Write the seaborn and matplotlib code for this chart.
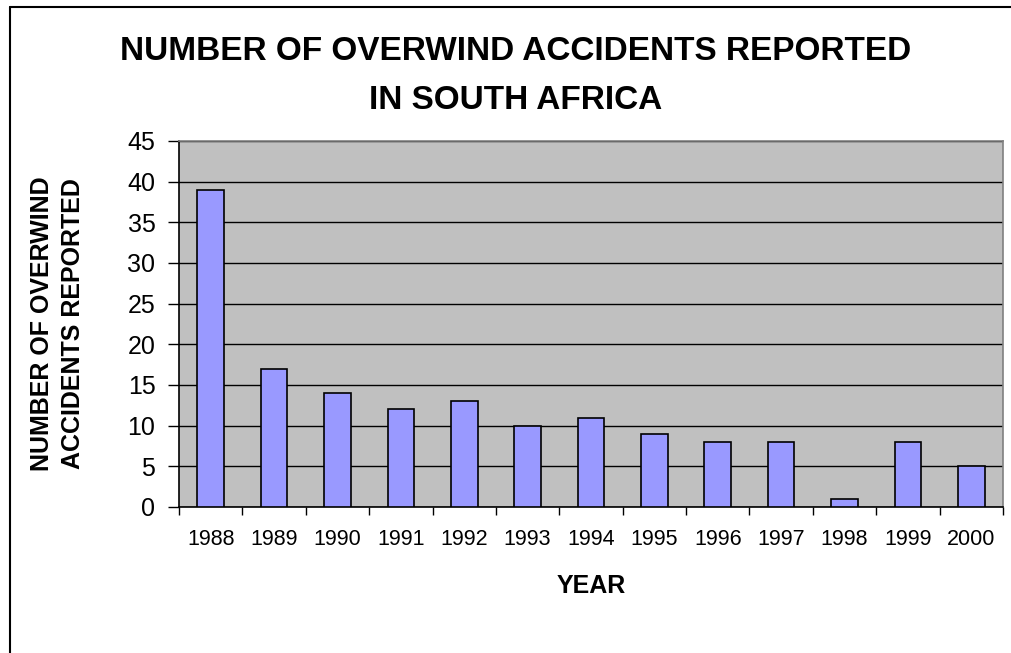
import matplotlib
matplotlib.use('Agg')
import matplotlib.pyplot as plt
from matplotlib.lines import Line2D
import numpy as np
import seaborn as sns

years = ['1988', '1989', '1990', '1991', '1992', '1993', '1994',
         '1995', '1996', '1997', '1998', '1999', '2000']
accidents = [39, 17, 14, 12, 13, 10, 11, 9, 8, 8, 1, 8, 5]
y_ticks = [0, 5, 10, 15, 20, 25, 30, 35, 40, 45]

title = 'NUMBER OF OVERWIND ACCIDENTS REPORTED\nIN SOUTH AFRICA'
y_label = 'NUMBER OF OVERWIND\nACCIDENTS REPORTED'
x_label = 'YEAR'

sns.set_style('white')
plt.rcParams['font.family'] = ['Liberation Sans', 'DejaVu Sans']
plt.rcParams['text.color'] = 'black'
plt.rcParams['axes.labelcolor'] = 'black'
plt.rcParams['xtick.color'] = 'black'
plt.rcParams['ytick.color'] = 'black'

fig = plt.figure(figsize=(10.11, 6.53), dpi=100)
ax = fig.add_axes([179 / 1011, 146 / 653, 824 / 1011, 366 / 653])
ax.set_facecolor('#C0C0C0')

sns.barplot(x=years, y=accidents, color='#9999FF', saturation=1,
            edgecolor='black', linewidth=1.2, width=0.42, ax=ax, zorder=3)

# y axis
ax.set_ylim(0, 45)
ax.set_yticks(y_ticks)
ax.yaxis.grid(True, color='black', linewidth=1)
ax.set_axisbelow(True)
ax.tick_params(axis='y', direction='out', length=8, width=1, color='black',
               labelsize=18, pad=9, left=True)

# x axis: tick marks between categories, labels at centres
n = len(years)
ax.set_xlim(-0.5, n - 0.5)
ax.set_xticks(np.arange(-0.5, n, 1.0))
ax.set_xticklabels([])
ax.set_xticks(np.arange(n), labels=years, minor=True)
ax.tick_params(axis='x', which='major', direction='out', length=6, width=1,
               color='black', bottom=True)
ax.tick_params(axis='x', which='minor', length=0, labelsize=15.5, pad=16)

for side in ['left', 'bottom']:
    ax.spines[side].set_color('black')
    ax.spines[side].set_linewidth(1.2)
for side in ['top', 'right']:
    ax.spines[side].set_visible(True)
    ax.spines[side].set_color('#808080')
    ax.spines[side].set_linewidth(1.2)

ax.set_xlabel(x_label, fontsize=18, fontweight='bold')
ax.xaxis.set_label_coords(0.5, -0.183)
ax.xaxis.label.set_va('top')
ax.set_ylabel(y_label, fontsize=18, fontweight='bold', linespacing=1.35)
ax.yaxis.set_label_coords(-0.114, 0.5)

fig.text(516 / 1011, 1 - 76 / 653, title, ha='center', va='center',
         fontsize=24, fontweight='bold', linespacing=1.72)

# outer chart frame (left and top edges visible)
fig.add_artist(Line2D([10 / 1011, 10 / 1011], [0, 1 - 7 / 653],
                      transform=fig.transFigure, color='black', lw=1.5))
fig.add_artist(Line2D([10 / 1011, 1], [1 - 7 / 653, 1 - 7 / 653],
                      transform=fig.transFigure, color='black', lw=1.5))

fig.savefig('out.png', dpi=100)
